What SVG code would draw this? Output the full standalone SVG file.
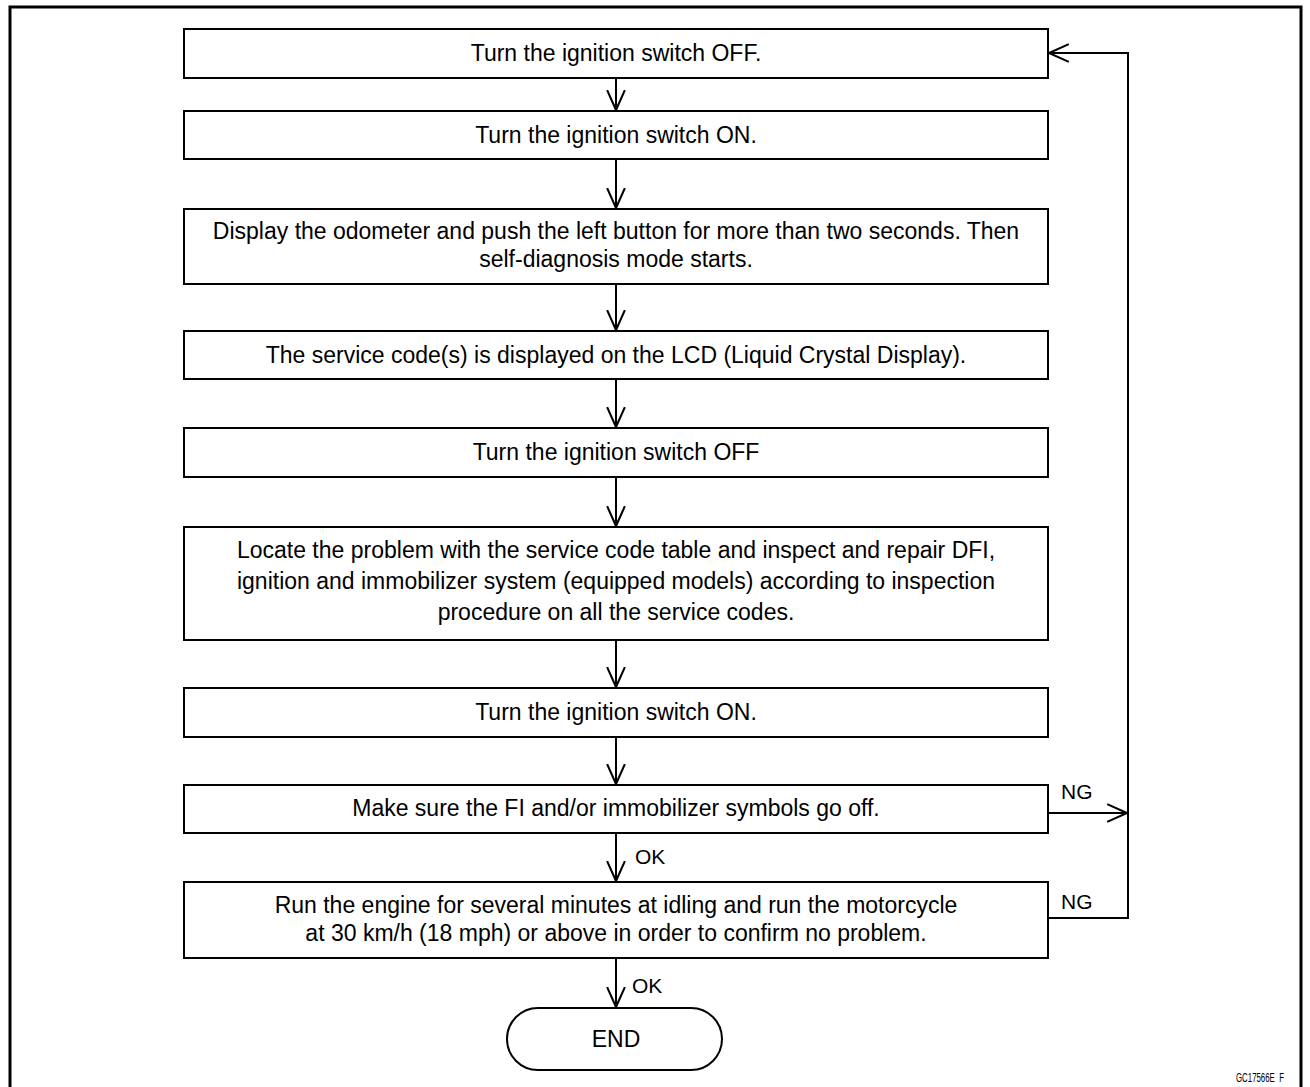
<svg xmlns="http://www.w3.org/2000/svg" width="1310" height="1087" viewBox="0 0 1310 1087">
<style>
.box{fill:#fff;stroke:#000;stroke-width:2}
.t{font-family:"Liberation Sans",Arial,sans-serif;font-size:23px;fill:#000;text-anchor:middle}
.lbl{font-family:"Liberation Sans",Arial,sans-serif;font-size:21px;fill:#000}
.ln{fill:none;stroke:#000;stroke-width:2}
</style>
<defs>
<marker id="ah" markerUnits="userSpaceOnUse" markerWidth="24" markerHeight="24" viewBox="-21 -11 23 22" refX="0" refY="0" orient="auto">
<path d="M-19,-8.5 L0,0 L-19,8.5" fill="none" stroke="#000" stroke-width="2"/>
</marker>
</defs>
<rect x="0" y="0" width="1310" height="1087" fill="#fff"/>
<rect x="10" y="7" width="1291" height="1100" fill="none" stroke="#000" stroke-width="3"/>
<g id="n1"><rect class="box" x="184" y="29" width="864" height="49"/><text class="t" x="616" y="61">Turn the ignition switch OFF.</text></g>
<g id="n2"><rect class="box" x="184" y="111" width="864" height="48"/><text class="t" x="616" y="143">Turn the ignition switch ON.</text></g>
<g id="n3"><rect class="box" x="184" y="209" width="864" height="75"/><text class="t" x="616" y="239">Display the odometer and push the left button for more than two seconds. Then</text><text class="t" x="616" y="267">self-diagnosis mode starts.</text></g>
<g id="n4"><rect class="box" x="184" y="331" width="864" height="48"/><text class="t" x="616" y="363">The service code(s) is displayed on the LCD (Liquid Crystal Display).</text></g>
<g id="n5"><rect class="box" x="184" y="428" width="864" height="49"/><text class="t" x="616" y="460">Turn the ignition switch OFF</text></g>
<g id="n6"><rect class="box" x="184" y="527" width="864" height="113"/><text class="t" x="616" y="558">Locate the problem with the service code table and inspect and repair DFI,</text><text class="t" x="616" y="589">ignition and immobilizer system (equipped models) according to inspection</text><text class="t" x="616" y="620">procedure on all the service codes.</text></g>
<g id="n7"><rect class="box" x="184" y="688" width="864" height="49"/><text class="t" x="616" y="720">Turn the ignition switch ON.</text></g>
<g id="n8"><rect class="box" x="184" y="785" width="864" height="48"/><text class="t" x="616" y="816">Make sure the FI and/or immobilizer symbols go off.</text></g>
<g id="n9"><rect class="box" x="184" y="882" width="864" height="76"/><text class="t" x="616" y="913">Run the engine for several minutes at idling and run the motorcycle</text><text class="t" x="616" y="941">at 30 km/h (18 mph) or above in order to confirm no problem.</text></g>
<g id="end"><rect class="box" x="507" y="1008" width="215" height="62" rx="31" ry="31"/><text class="t" x="616" y="1047">END</text></g>
<g id="connectors">
<line class="ln" x1="616" y1="78" x2="616" y2="110" marker-end="url(#ah)"/>
<line class="ln" x1="616" y1="159" x2="616" y2="208" marker-end="url(#ah)"/>
<line class="ln" x1="616" y1="284" x2="616" y2="330" marker-end="url(#ah)"/>
<line class="ln" x1="616" y1="379" x2="616" y2="427" marker-end="url(#ah)"/>
<line class="ln" x1="616" y1="477" x2="616" y2="526" marker-end="url(#ah)"/>
<line class="ln" x1="616" y1="640" x2="616" y2="687" marker-end="url(#ah)"/>
<line class="ln" x1="616" y1="737" x2="616" y2="784" marker-end="url(#ah)"/>
<line class="ln" x1="616" y1="833" x2="616" y2="881" marker-end="url(#ah)"/>
<line class="ln" x1="616" y1="958" x2="616" y2="1007" marker-end="url(#ah)"/>
<line class="ln" x1="1048" y1="813" x2="1127" y2="813" marker-end="url(#ah)"/>
<polyline class="ln" points="1048,918 1128,918 1128,53 1049,53" marker-end="url(#ah)"/>
<text class="lbl" x="635" y="864">OK</text>
<text class="lbl" x="632" y="993">OK</text>
<text class="lbl" x="1061" y="799">NG</text>
<text class="lbl" x="1061" y="909">NG</text>
</g>
<text x="1236" y="1082" font-family="Liberation Sans,Arial,sans-serif" font-size="12" textLength="48" lengthAdjust="spacingAndGlyphs" xml:space="preserve">GC17566E  F</text>
</svg>
